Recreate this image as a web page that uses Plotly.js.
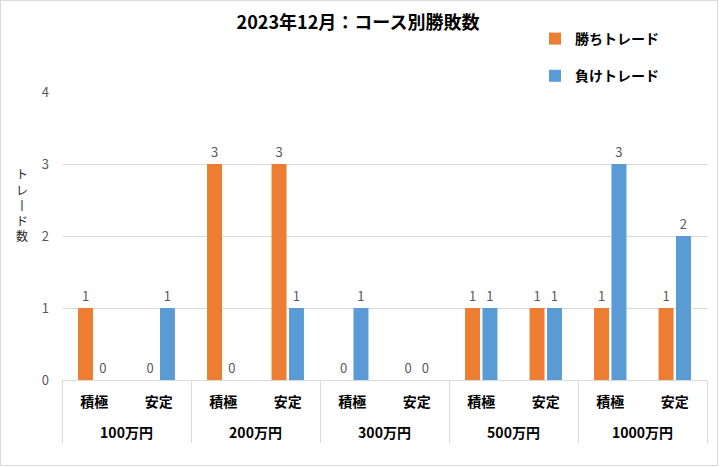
<!DOCTYPE html>
<html>
<head>
<meta charset="utf-8">
<script src="https://cdn.plot.ly/plotly-3.0.1.min.js"></script>
<style>
  html, body { margin: 0; padding: 0; background: #fff; }
  #chart { width: 716px; height: 464px; border: 1px solid #d9d9d9; }
</style>
</head>
<body>
<div id="chart"></div>
<script>
// ---- data ----
const titleText = '2023年12月：コース別勝敗数';
const groups = ['100万円', '200万円', '300万円', '500万円', '1000万円'];
const courses = ['積極', '安定'];
const winName = '勝ちトレード';
const lossName = '負けトレード';
// order: each group × (積極, 安定)
const wins   = [1, 0, 3, 3, 0, 0, 1, 1, 1, 1];
const losses = [0, 1, 0, 1, 1, 0, 1, 1, 3, 2];
const yTitleChars = ['ト', 'レ', '丨', 'ド', '数'];
const yTicks = [0, 1, 2, 3, 4];

// ---- build multicategory x (sub label padded with an empty line for spacing) ----
const xGroup = [], xCourse = [];
groups.forEach(g => courses.forEach(c => { xGroup.push(g); xCourse.push(c + '<br> '); }));

const FONT = '"Noto Sans CJK JP", "Noto Sans", sans-serif';
const ORANGE = '#ED7D31', BLUE = '#5B9BD5', GRID = '#d9d9d9', GRAY = '#595959';

function barTrace(name, vals, color, grp) {
  return {
    type: 'bar', name: name, legendgroup: grp,
    x: [xGroup, xCourse], y: vals,
    marker: { color: color },
    text: vals.map(String), textposition: 'outside',
    textfont: { family: FONT, size: 13, color: GRAY },
    cliponaxis: false, hoverinfo: 'skip'
  };
}

const data = [barTrace(winName, wins, ORANGE, 'w'), barTrace(lossName, losses, BLUE, 'l')];

const W = 716, H = 464;
const m = { l: 61, r: 10, t: 91, b: 85 };
const plotH = H - m.t - m.b, plotW = W - m.l - m.r;

const layout = {
  width: W, height: H,
  margin: m,
  paper_bgcolor: '#fff', plot_bgcolor: '#fff',
  font: { family: FONT, color: '#000' },
  title: {
    text: '<b>' + titleText + '</b>',
    font: { family: FONT, size: 18, color: '#000' },
    xref: 'container', x: 357 / W, xanchor: 'center',
    yref: 'container', y: 1 - 22 / H, yanchor: 'middle'
  },
  barmode: 'group', bargap: 0.46, bargroupgap: 0.14,
  showlegend: true,
  legend: {
    x: (534 - m.l) / plotW, xanchor: 'left',
    y: 1 + (m.t - 22) / plotH, yanchor: 'top',
    traceorder: 'grouped', tracegroupgap: 16,
    font: { family: FONT, size: 14, color: '#000', weight: 'bold' },
    bgcolor: 'rgba(0,0,0,0)'
  },
  xaxis: {
    type: 'multicategory',
    showgrid: false, showline: true, linecolor: GRID, linewidth: 1,
    ticks: '', showdividers: true, dividercolor: GRID, dividerwidth: 1,
    ticklabelstandoff: 9,
    tickfont: { family: FONT, size: 14, color: '#000', weight: 'bold' },
    zeroline: false
  },
  yaxis: {
    range: [0, 4], tickvals: yTicks, ticktext: yTicks.map(String),
    showgrid: true, gridcolor: GRID, gridwidth: 1,
    zeroline: false, showline: false, ticks: '',
    ticklabelstandoff: 12,
    tickfont: { family: FONT, size: 13, color: GRAY }
  },
  annotations: [{
    text: yTitleChars.join('<br>'),
    xref: 'paper', yref: 'paper',
    x: (21 - m.l) / plotW, xanchor: 'center',
    y: (379 - 203) / plotH, yanchor: 'middle',
    showarrow: false, textangle: 0,
    font: { family: FONT, size: 12, color: '#262626' }
  }]
};

Plotly.newPlot('chart', data, layout, { displayModeBar: false, staticPlot: true });
</script>
</body>
</html>
